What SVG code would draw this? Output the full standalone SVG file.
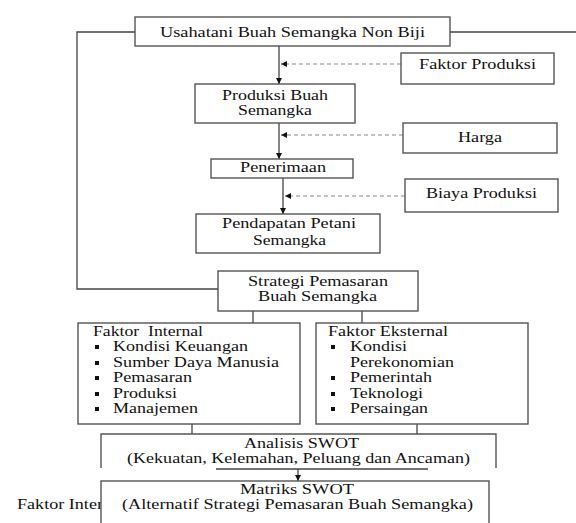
<svg xmlns="http://www.w3.org/2000/svg" width="576" height="523" viewBox="0 0 576 523">
<style>
  text { font-family: "Liberation Serif", "Times New Roman", serif; font-size: 14.5px; fill: #111; }
  .box { fill: #fff; stroke: #555; stroke-width: 1.4; }
  .ln { fill: none; stroke: #444; stroke-width: 1.3; }
  .dash { fill: none; stroke: #888; stroke-width: 1.2; stroke-dasharray: 4 3; }
  .bul { fill: #111; }
</style>
<defs>
  <marker id="ah" viewBox="0 0 10 10" refX="10" refY="5" markerWidth="6" markerHeight="6" markerUnits="userSpaceOnUse" orient="auto">
    <path d="M0,0 L10,5 L0,10 Z" fill="#111"/>
  </marker>
</defs>
<rect width="576" height="523" fill="#fff"/>

<g id="connectors">
  <polyline class="ln" points="135,32 77,32 77,289 218,289"/>
  <line class="ln" x1="450" y1="32" x2="576" y2="32"/>
  <line class="ln" x1="279" y1="46" x2="279" y2="84" marker-end="url(#ah)"/>
  <line class="dash" x1="401" y1="64" x2="281" y2="64" marker-end="url(#ah)"/>
  <line class="ln" x1="279" y1="123" x2="279" y2="159" marker-end="url(#ah)"/>
  <line class="dash" x1="403" y1="135" x2="281" y2="135" marker-end="url(#ah)"/>
  <line class="ln" x1="283" y1="178" x2="283" y2="214" marker-end="url(#ah)"/>
  <line class="dash" x1="405" y1="196" x2="285" y2="196" marker-end="url(#ah)"/>
  <line class="ln" x1="253" y1="311" x2="253" y2="323"/>
  <line class="ln" x1="362" y1="311" x2="362" y2="323"/>
  <line class="ln" x1="192" y1="424" x2="192" y2="434"/>
  <line class="ln" x1="417" y1="424" x2="417" y2="434"/>
  <line class="ln" x1="298" y1="469" x2="298" y2="481" marker-end="url(#ah)"/>
</g>

<g id="usahatani">
  <rect class="box" x="135" y="17" width="315" height="29"/>
  <text x="160" y="37" textLength="265" lengthAdjust="spacingAndGlyphs">Usahatani Buah Semangka Non Biji</text>
</g>
<g id="faktor-produksi">
  <rect class="box" x="401" y="53" width="153" height="31"/>
  <text x="419" y="69" textLength="117" lengthAdjust="spacingAndGlyphs">Faktor Produksi</text>
</g>
<g id="produksi">
  <rect class="box" x="195" y="84" width="160" height="39"/>
  <text x="222" y="100" textLength="106" lengthAdjust="spacingAndGlyphs">Produksi Buah</text>
  <text x="238" y="115" textLength="74" lengthAdjust="spacingAndGlyphs">Semangka</text>
</g>
<g id="harga">
  <rect class="box" x="403" y="123" width="154" height="30"/>
  <text x="458" y="142" textLength="44" lengthAdjust="spacingAndGlyphs">Harga</text>
</g>
<g id="penerimaan">
  <rect class="box" x="211" y="159" width="142" height="19"/>
  <text x="240" y="172" textLength="86" lengthAdjust="spacingAndGlyphs">Penerimaan</text>
</g>
<g id="biaya-produksi">
  <rect class="box" x="405" y="179" width="153" height="33"/>
  <text x="426" y="198" textLength="111" lengthAdjust="spacingAndGlyphs">Biaya Produksi</text>
</g>
<g id="pendapatan">
  <rect class="box" x="196" y="214" width="184" height="39"/>
  <text x="222" y="228" textLength="134" lengthAdjust="spacingAndGlyphs">Pendapatan Petani</text>
  <text x="253" y="245" textLength="73" lengthAdjust="spacingAndGlyphs">Semangka</text>
</g>
<g id="strategi">
  <rect class="box" x="218" y="271" width="200" height="40"/>
  <text x="248" y="286" textLength="140" lengthAdjust="spacingAndGlyphs">Strategi Pemasaran</text>
  <text x="258" y="301" textLength="119" lengthAdjust="spacingAndGlyphs">Buah Semangka</text>
</g>
<g id="faktor-internal">
  <rect class="box" x="78" y="323" width="222" height="101"/>
  <text x="93" y="336" textLength="110" lengthAdjust="spacingAndGlyphs" xml:space="preserve">Faktor  Internal</text>
  <rect class="bul" x="95" y="345" width="4" height="4"/>
  <text x="113" y="351" textLength="135" lengthAdjust="spacingAndGlyphs">Kondisi Keuangan</text>
  <rect class="bul" x="95" y="361" width="4" height="4"/>
  <text x="113" y="367" textLength="166" lengthAdjust="spacingAndGlyphs">Sumber Daya Manusia</text>
  <rect class="bul" x="95" y="376" width="4" height="4"/>
  <text x="113" y="382" textLength="79" lengthAdjust="spacingAndGlyphs">Pemasaran</text>
  <rect class="bul" x="95" y="392" width="4" height="4"/>
  <text x="113" y="398" textLength="64" lengthAdjust="spacingAndGlyphs">Produksi</text>
  <rect class="bul" x="95" y="407" width="4" height="4"/>
  <text x="113" y="413" textLength="85" lengthAdjust="spacingAndGlyphs">Manajemen</text>
</g>
<g id="faktor-eksternal">
  <rect class="box" x="316" y="323" width="212" height="101"/>
  <text x="328" y="336" textLength="120" lengthAdjust="spacingAndGlyphs">Faktor Eksternal</text>
  <rect class="bul" x="331" y="345" width="4" height="4"/>
  <text x="350" y="351" textLength="57" lengthAdjust="spacingAndGlyphs">Kondisi</text>
  <text x="350" y="367" textLength="104" lengthAdjust="spacingAndGlyphs">Perekonomian</text>
  <rect class="bul" x="331" y="376" width="4" height="4"/>
  <text x="350" y="382" textLength="82" lengthAdjust="spacingAndGlyphs">Pemerintah</text>
  <rect class="bul" x="331" y="392" width="4" height="4"/>
  <text x="350" y="398" textLength="73" lengthAdjust="spacingAndGlyphs">Teknologi</text>
  <rect class="bul" x="331" y="407" width="4" height="4"/>
  <text x="350" y="413" textLength="78" lengthAdjust="spacingAndGlyphs">Persaingan</text>
</g>
<g id="analisis-swot">
  <path class="ln" d="M101,468 L101,434 L496,434 L496,468" style="stroke:#555;stroke-width:1.4"/>
  <line class="ln" x1="216" y1="469" x2="428" y2="469" style="stroke-width:1.6"/>
  <text x="244" y="448" textLength="115" lengthAdjust="spacingAndGlyphs">Analisis SWOT</text>
  <text x="127" y="463" textLength="343" lengthAdjust="spacingAndGlyphs">(Kekuatan, Kelemahan, Peluang dan Ancaman)</text>
</g>
<g id="faktor-intern-label">
  <text x="17" y="509" textLength="95" lengthAdjust="spacingAndGlyphs">Faktor Intern</text>
</g>
<g id="matriks-swot">
  <rect class="box" x="101" y="481" width="388" height="50"/>
  <text x="240" y="494" textLength="114" lengthAdjust="spacingAndGlyphs">Matriks SWOT</text>
  <text x="122" y="509" textLength="351" lengthAdjust="spacingAndGlyphs">(Alternatif Strategi Pemasaran Buah Semangka)</text>
</g>
</svg>
